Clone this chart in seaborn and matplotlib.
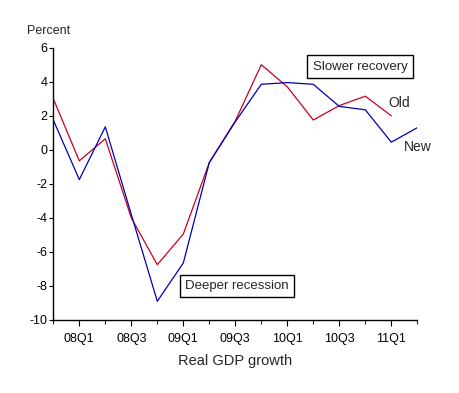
import numpy as np
import pandas as pd
import matplotlib
matplotlib.use("Agg")
import matplotlib.pyplot as plt
import seaborn as sns

quarters = ["07Q4", "08Q1", "08Q2", "08Q3", "08Q4", "09Q1", "09Q2", "09Q3",
            "09Q4", "10Q1", "10Q2", "10Q3", "10Q4", "11Q1", "11Q2"]
new_vals = [1.75, -1.75, 1.35, -3.8, -8.9, -6.65, -0.75, 1.65,
            3.85, 3.95, 3.85, 2.55, 2.35, 0.45, 1.3]
old_vals = [3.0, -0.65, 0.65, -4.0, -6.75, -4.95, -0.75, 1.7,
            5.0, 3.7, 1.75, 2.6, 3.15, 2.0, np.nan]
tick_labels = ["08Q1", "08Q3", "09Q1", "09Q3", "10Q1", "10Q3", "11Q1"]
y_ticks = [-10, -8, -6, -4, -2, 0, 2, 4, 6]

sns.set_style("ticks")
plt.rcParams["font.family"] = ["Liberation Sans", "DejaVu Sans"]

idx = np.arange(len(quarters))
df = pd.DataFrame({"q": np.concatenate([idx, idx]),
                   "val": new_vals + old_vals,
                   "series": ["New"] * len(idx) + ["Old"] * len(idx)})

fig = plt.figure(figsize=(4.6, 3.93), dpi=100)
ax = fig.add_axes([53.3 / 460, 1 - 320 / 393, (417.3 - 53.3) / 460, (320 - 47.7) / 393])

sns.lineplot(data=df, x="q", y="val", hue="series",
             palette={"New": "#0000b4", "Old": "#c8001e"},
             hue_order=["Old", "New"], linewidth=0.9, legend=False, ax=ax)

ax.set_xlim(0, 14)
ax.set_ylim(-10, 6)
ax.set_yticks(y_ticks)
ax.set_yticklabels([str(v) for v in y_ticks], fontsize=9)
major = [quarters.index(t) for t in tick_labels]
ax.set_xticks(major)
ax.set_xticklabels(tick_labels, fontsize=9)
ax.set_xticks([i for i in idx if i not in major], minor=True)
ax.tick_params(axis="y", length=3, width=0.8, pad=1, colors="black")
ax.tick_params(axis="x", which="major", length=4.5, width=0.8, pad=5, colors="black")
ax.tick_params(axis="x", which="minor", length=3, width=0.8)
for s in ["top", "right"]:
    ax.spines[s].set_visible(False)
for s in ["left", "bottom"]:
    ax.spines[s].set_linewidth(1.0)
    ax.spines[s].set_color("black")

ax.set_xlabel("Real GDP growth", fontsize=10.5, labelpad=6)
ax.set_ylabel("")
fig.text(49 / 460, 1 - 31.5 / 393, "Percent", fontsize=9, ha="center", va="center")

box = dict(boxstyle="square,pad=0.4", facecolor="white", edgecolor="black", linewidth=1.0)
ax.text(11.8, 4.88, "Slower recovery", fontsize=9.5, ha="center", va="center", bbox=box)
ax.text(7.07, -8.0, "Deeper recession", fontsize=9.5, ha="center", va="center", bbox=box)
ax.text(12.9, 2.75, "Old", fontsize=10, ha="left", va="center")
ax.text(13.48, 0.19, "New", fontsize=10, ha="left", va="center")

fig.savefig("out.png", dpi=100, facecolor="white")
